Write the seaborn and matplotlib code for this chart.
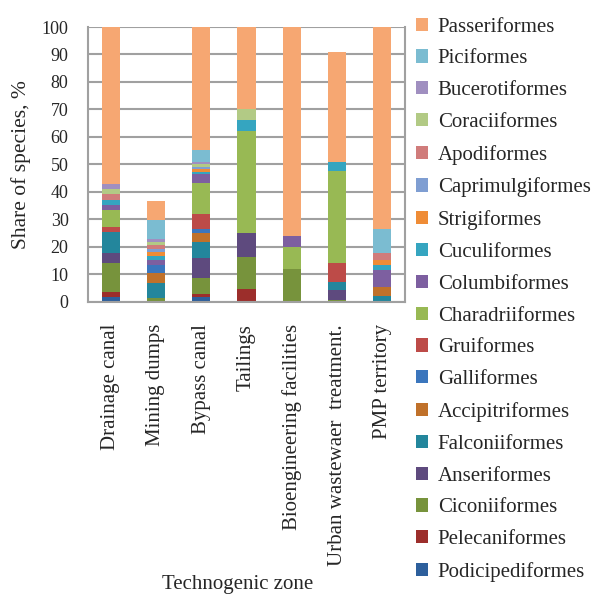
import pandas as pd
import seaborn as sns
import matplotlib.pyplot as plt

zones = ['Drainage canal', 'Mining dumps', 'Bypass canal', 'Tailings',
         'Bioengineering facilities', 'Urban wastewaer  treatment.', 'PMP territory']

# stacking order, bottom -> top
orders = ['Podicipediformes', 'Pelecaniformes', 'Ciconiiformes', 'Anseriformes',
          'Falconiiformes', 'Accipitriformes', 'Galliformes', 'Gruiformes',
          'Charadriiformes', 'Columbiformes', 'Cuculiformes', 'Strigiformes',
          'Caprimulgiformes', 'Apodiformes', 'Coraciiformes', 'Bucerotiformes',
          'Piciformes', 'Passeriformes']

colors = ['#2D5F9C', '#9C2E2B', '#77933C', '#5E4A7E',
          '#23869C', '#C0712A', '#3B76BD', '#BD4B48',
          '#98B954', '#7D5FA0', '#35A5C0', '#EF8C36',
          '#7F9ED2', '#D07C7B', '#B2CA85', '#A08FC0',
          '#7BBCD1', '#F6A772']

# share of species, %, one list per order (values per zone)
podicipediformes = [1.8, 0, 1.8, 0, 0, 0, 0]
pelecaniformes = [1.8, 0, 0.9, 4.5, 0, 0, 0]
ciconiiformes = [10.4, 1.5, 5.8, 11.9, 12.1, 0.8, 0]
anseriformes = [3.6, 0, 7.3, 8.5, 0, 3.5, 0]
falconiiformes = [7.9, 5.2, 6.1, 0, 0, 3.0, 2.0]
accipitriformes = [0, 3.6, 3.0, 0, 0, 0, 3.5]
galliformes = [0, 3.0, 1.7, 0, 0, 0, 0]
gruiformes = [1.8, 0, 5.5, 0, 0, 6.7, 0]
charadriiformes = [6.1, 0, 11.3, 37.2, 7.9, 33.6, 0]
columbiformes = [1.8, 1.9, 3.0, 0, 4.1, 0, 6.0]
cuculiformes = [1.8, 1.6, 0.9, 4.2, 0, 3.1, 1.8]
strigiformes = [0, 1.4, 1.2, 0, 0, 0, 1.9]
caprimulgiformes = [0, 1.1, 0.6, 0, 0, 0, 0]
apodiformes = [2.3, 1.2, 0, 0, 0, 0, 2.4]
coraciiformes = [1.8, 1.3, 1.0, 4.0, 0, 0, 0]
bucerotiformes = [1.8, 1.2, 0.9, 0, 0, 0, 0]
piciformes = [0, 6.7, 4.4, 0, 0, 0, 8.9]
passeriformes = [57.2, 7.0, 44.6, 29.7, 75.9, 40.2, 73.5]

values = [podicipediformes, pelecaniformes, ciconiiformes, anseriformes,
          falconiiformes, accipitriformes, galliformes, gruiformes,
          charadriiformes, columbiformes, cuculiformes, strigiformes,
          caprimulgiformes, apodiformes, coraciiformes, bucerotiformes,
          piciformes, passeriformes]

rows = []
for order, vals in zip(orders, values):
    for zone, v in zip(zones, vals):
        rows.append({'zone': zone, 'order': order, 'share': v})
df = pd.DataFrame(rows)

sns.set_style('white')
plt.rcParams['font.family'] = ['Liberation Serif', 'DejaVu Serif']

fig = plt.figure(figsize=(5.97, 5.94), dpi=100)
ax = fig.add_axes([0.1474, 0.492, 0.531, 0.4625])

ax.yaxis.grid(True, color='#A0A0A0', linewidth=1.5)
ax.set_axisbelow(True)

sns.histplot(data=df, x='zone', hue='order', weights='share', multiple='stack',
             discrete=True, shrink=0.4, hue_order=orders[::-1],
             palette=dict(zip(orders, colors)), alpha=1, linewidth=0, ax=ax)

ax.set_xlim(-0.5, len(zones) - 0.5)
ax.set_ylim(0, 100)
ax.set_yticks(range(0, 101, 10))
ax.set_xticks(range(len(zones)))
ax.set_xticklabels(zones, rotation=90, fontsize=15)
ax.set_xticks([i - 0.5 for i in range(len(zones) + 1)], minor=True)
ax.tick_params(axis='x', which='major', length=0, pad=16)
ax.tick_params(axis='x', which='minor', length=5, color='#A0A0A0', width=1.5)
ax.tick_params(axis='y', length=4, color='#A0A0A0', width=1.5, pad=10, labelsize=13)

for s in ['left', 'bottom', 'right']:
    ax.spines[s].set_color('#A0A0A0')
    ax.spines[s].set_linewidth(1.5)
ax.spines['top'].set_visible(False)

ax.set_ylabel('Share of species, %', fontsize=15.5, labelpad=8)
ax.set_xlabel('Technogenic zone', fontsize=15)
ax.xaxis.set_label_coords(0.473, -0.995)

sns.move_legend(ax, loc='upper left', bbox_to_anchor=(1.008, 1.065), title=None,
                frameon=False, fontsize=15, labelspacing=0.615,
                handlelength=0.6, handleheight=0.6, handletextpad=0.45,
                borderaxespad=0)

fig.savefig('out.png', dpi=100)
